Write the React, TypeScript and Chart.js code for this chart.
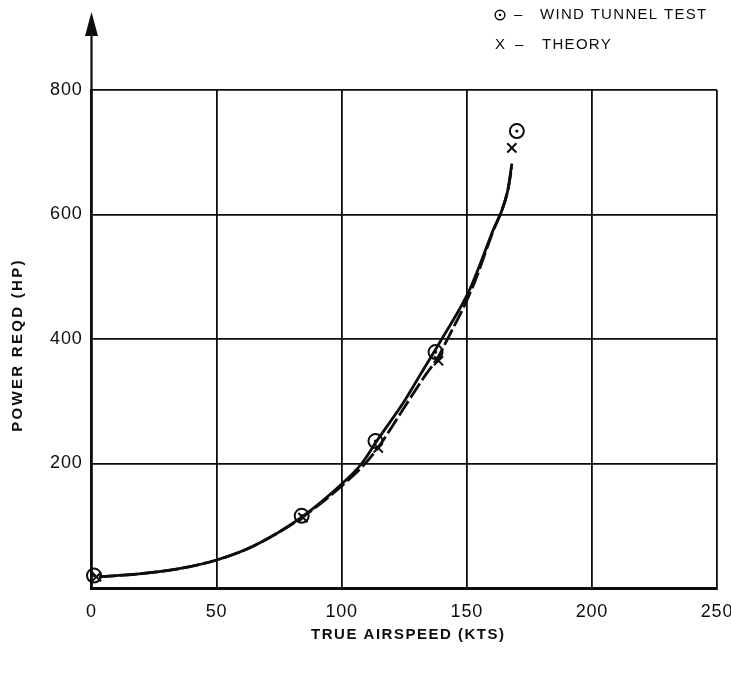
import { useEffect, useRef } from 'react';
import { Chart, registerables } from 'chart.js';

Chart.register(...registerables);

const xTickValues = [0, 50, 100, 150, 200, 250];
const yTickValues = [0, 200, 400, 600, 800];

const tunnelSpeed = [1, 84, 113.5, 137.5, 170];
const tunnelPower = [20, 116, 236, 379, 734];

const theorySpeed = [2, 84.5, 114.6, 138.7, 168];
const theoryPower = [18, 113, 225, 365, 707];

const tunnelCurveSpeed = [3, 20, 35, 50, 65, 84, 100, 108, 114, 125, 131, 140, 151, 160, 166.4, 168];
const tunnelCurvePower = [18, 23, 31, 45, 68, 114, 167, 200, 236, 300, 340, 400, 478, 570, 639, 682];

const theoryCurveSpeed = [3, 20, 35, 50, 65, 84, 100, 109.4, 114.6, 125, 132.6, 138.7, 142.3, 152, 160, 166.4, 168];
const theoryCurvePower = [18, 23, 31, 45, 68, 113, 164, 200, 226, 290, 337, 372, 400, 480, 568, 639, 676];

const legendTunnel = 'WIND TUNNEL TEST';
const legendTheory = 'THEORY';
const xTitle = 'TRUE AIRSPEED (KTS)';
const yTitle = 'POWER REQD (HP)';

const pts = (xs: number[], ys: number[]) => xs.map((x, i) => ({ x, y: ys[i] }));

const INK = '#0d0d0d';
const FONT = '"Liberation Sans", Arial, Helvetica, sans-serif';

const decorPlugin = {
  id: 'decor',
  beforeUpdate(chart: any) {
    chart.ctx.letterSpacing = '0.8px';
  },
  beforeDraw(chart: any) {
    chart.ctx.letterSpacing = '0.8px';
  },
  afterDraw(chart: any) {
    const { ctx, chartArea } = chart;
    const { left, top, right, bottom } = chartArea;
    ctx.save();
    // y-axis extension with arrow
    ctx.strokeStyle = INK;
    ctx.fillStyle = INK;
    ctx.lineWidth = 2.2;
    ctx.beginPath();
    ctx.moveTo(left, top);
    ctx.lineTo(left, top - 58);
    ctx.stroke();
    ctx.beginPath();
    ctx.moveTo(left, top - 78);
    ctx.lineTo(left - 6.5, top - 54);
    ctx.lineTo(left + 6.5, top - 54);
    ctx.closePath();
    ctx.fill();

    // axis titles
    ctx.font = `bold 15px ${FONT}`;
    ctx.textBaseline = 'middle';
    ctx.textAlign = 'center';
    ctx.letterSpacing = '1.5px';
    ctx.fillText(xTitle, (left + right) / 2 + 4, bottom + 47);

    ctx.save();
    ctx.translate(18, (top + bottom) / 2 + 6);
    ctx.rotate(-Math.PI / 2);
    ctx.letterSpacing = '2.3px';
    ctx.fillText(yTitle, 0, 0);
    ctx.restore();

    // legend
    const lx = right - 217;
    ctx.font = `15px ${FONT}`;
    ctx.textAlign = 'left';
    ctx.letterSpacing = '1.3px';
    ctx.lineWidth = 1.4;
    ctx.beginPath();
    ctx.arc(lx, 15, 4.8, 0, Math.PI * 2);
    ctx.stroke();
    ctx.beginPath();
    ctx.arc(lx, 15, 1.3, 0, Math.PI * 2);
    ctx.fill();
    ctx.fillText('–', lx + 14, 15);
    ctx.fillText(legendTunnel, lx + 40, 15);

    ctx.fillText('X', lx - 5, 45);
    ctx.fillText('–', lx + 15, 45);
    ctx.fillText(legendTheory, lx + 42, 45);
    ctx.restore();
  },
};

export default function App() {
  const ref = useRef<HTMLCanvasElement | null>(null);

  useEffect(() => {
    if (!ref.current) return;
    const chart = new Chart(ref.current, {
      type: 'scatter',
      data: {
        datasets: [
          {
            label: 'Wind tunnel fit',
            data: pts(tunnelCurveSpeed, tunnelCurvePower),
            showLine: true,
            borderColor: INK,
            borderWidth: 2.8,
            pointRadius: 0,
            cubicInterpolationMode: 'monotone',
            clip: false,
          } as any,
          {
            label: 'Theory curve',
            data: pts(theoryCurveSpeed, theoryCurvePower),
            showLine: true,
            borderColor: INK,
            borderWidth: 2.8,
            borderDash: [17, 4],
            pointRadius: 0,
            cubicInterpolationMode: 'monotone',
            clip: false,
          } as any,
          {
            label: 'Wind tunnel test',
            data: pts(tunnelSpeed, tunnelPower),
            pointStyle: 'circle',
            pointRadius: 7,
            pointBorderWidth: 2,
            pointBorderColor: INK,
            pointBackgroundColor: 'rgba(255,255,255,0)',
            clip: false,
          } as any,
          {
            label: 'Wind tunnel test centre',
            data: pts(tunnelSpeed, tunnelPower),
            pointStyle: 'circle',
            pointRadius: 1.7,
            pointBorderWidth: 0,
            pointBackgroundColor: INK,
            clip: false,
          } as any,
          {
            label: 'Theory',
            data: pts(theorySpeed, theoryPower),
            pointStyle: 'crossRot',
            pointRadius: 6.5,
            pointBorderWidth: 2,
            pointBorderColor: INK,
            clip: false,
          } as any,
        ],
      },
      options: {
        animation: false,
        responsive: false,
        events: [],
        layout: { padding: { left: 0, top: 90, right: 14, bottom: 0 } },
        plugins: {
          legend: { display: false },
          tooltip: { enabled: false },
        },
        scales: {
          x: {
            type: 'linear',
            min: xTickValues[0],
            max: xTickValues[xTickValues.length - 1],
            afterBuildTicks: (scale: any) => {
              scale.ticks = xTickValues.map((v) => ({ value: v }));
            },
            afterFit: (scale: any) => {
              scale.height = 85;
              scale.paddingLeft = 0;
              scale.paddingRight = 0;
            },
            ticks: {
              color: INK,
              font: { family: FONT, size: 18 },
              padding: 13,
              maxRotation: 0,
            },
            grid: { color: INK, lineWidth: 1.8, drawTicks: false },
            border: { display: true, color: INK, width: 3 },
          },
          y: {
            type: 'linear',
            min: yTickValues[0],
            max: yTickValues[yTickValues.length - 1],
            afterBuildTicks: (scale: any) => {
              scale.ticks = yTickValues.map((v) => ({ value: v }));
            },
            afterFit: (scale: any) => {
              scale.width = 91.5;
              scale.paddingTop = 0;
              scale.paddingBottom = 0;
            },
            ticks: {
              color: INK,
              font: { family: FONT, size: 18 },
              padding: 9,
              callback: (v: any) => (v === 0 ? '' : String(v)),
            },
            grid: { color: INK, lineWidth: 1.8, drawTicks: false },
            border: { display: true, color: INK, width: 2.2 },
          },
        },
      } as any,
      plugins: [decorPlugin],
    });
    return () => chart.destroy();
  }, []);

  return (
    <div style={{ position: 'absolute', left: 0, top: 0, width: 731, height: 673, background: '#fff' }}>
      <canvas ref={ref} width={731} height={673} style={{ width: 731, height: 673, display: 'block' }} />
    </div>
  );
}
